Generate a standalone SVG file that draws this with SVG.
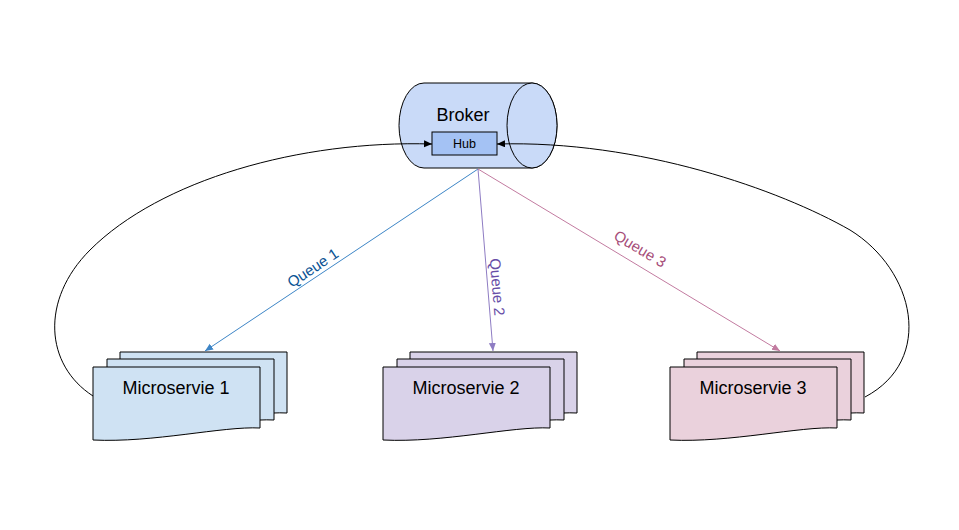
<svg xmlns="http://www.w3.org/2000/svg" width="959" height="530" viewBox="0 0 959 530">
<style>
  text { font-family: "Liberation Sans", Arial, sans-serif; }
  .doc { stroke: #000; stroke-width: 1; }
  .d1 { fill: #cfe2f3; }
  .d2 { fill: #d9d2e9; }
  .d3 { fill: #ead1dc; }
  .lbl { font-size: 18px; fill: #000; text-anchor: middle; }
  .q { font-size: 15px; text-anchor: middle; }
  .conn { fill: none; stroke-width: 1; }
</style>
<defs>
  <path id="docshape" d="M0,0 H167 V61 C130,59 60,76 0,73 Z"/>
  <marker id="ak" markerUnits="userSpaceOnUse" markerWidth="10" markerHeight="8" refX="8" refY="3.5" orient="auto"><path d="M0,0 L8,3.5 L0,7 Z" fill="#000"/></marker>
  <marker id="ab" markerUnits="userSpaceOnUse" markerWidth="10" markerHeight="8" refX="8" refY="3.5" orient="auto"><path d="M0,0 L8,3.5 L0,7 Z" fill="#3d85c6"/></marker>
  <marker id="ap" markerUnits="userSpaceOnUse" markerWidth="10" markerHeight="8" refX="8" refY="3.5" orient="auto"><path d="M0,0 L8,3.5 L0,7 Z" fill="#8e7cc3"/></marker>
  <marker id="am" markerUnits="userSpaceOnUse" markerWidth="10" markerHeight="8" refX="8" refY="3.5" orient="auto"><path d="M0,0 L8,3.5 L0,7 Z" fill="#c27ba0"/></marker>
</defs>
<rect width="959" height="530" fill="#fff"/>

<g id="broker">
  <path d="M424,83 H532 A25,42.5 0 0 1 532,168 H424 A25,42.5 0 0 1 424,83 Z" fill="#c9daf8" stroke="#000"/>
  <ellipse cx="532" cy="125.5" rx="25" ry="42.5" fill="#c9daf8" stroke="#000"/>
  <text x="463" y="121" class="lbl">Broker</text>
</g>

<g id="hub">
  <rect x="432" y="132" width="65" height="23" fill="#a4c2f4" stroke="#000"/>
  <text x="464.5" y="148" font-size="12.5" text-anchor="middle" fill="#000">Hub</text>
</g>

<g id="microservice1">
  <use href="#docshape" x="120" y="352" class="doc d1"/>
  <use href="#docshape" x="107" y="359" class="doc d1"/>
  <use href="#docshape" x="93" y="367" class="doc d1"/>
  <text x="176" y="394" class="lbl">Microservie 1</text>
</g>

<g id="microservice2">
  <use href="#docshape" x="410" y="352" class="doc d2"/>
  <use href="#docshape" x="397" y="359" class="doc d2"/>
  <use href="#docshape" x="383" y="367" class="doc d2"/>
  <text x="466" y="394" class="lbl">Microservie 2</text>
</g>

<g id="microservice3">
  <use href="#docshape" x="697" y="352" class="doc d3"/>
  <use href="#docshape" x="684" y="359" class="doc d3"/>
  <use href="#docshape" x="670" y="367" class="doc d3"/>
  <text x="753" y="394" class="lbl">Microservie 3</text>
</g>

<g id="connectors">
  <path class="conn" stroke="#000" d="M93,396 C45,365 40,300 90,250 C160,180 300,140 432,144" marker-end="url(#ak)"/>
  <path class="conn" stroke="#000" d="M865,397 C935,360 915,270 850,230 C780,190 640,140 497,144" marker-end="url(#ak)"/>
  <path class="conn" stroke="#3d85c6" d="M478,169 L205,351" marker-end="url(#ab)"/>
  <path class="conn" stroke="#8e7cc3" d="M478,169 L493,351" marker-end="url(#ap)"/>
  <path class="conn" stroke="#c27ba0" d="M478,169 L780,351" marker-end="url(#am)"/>
  <text class="q" fill="#0b5394" transform="translate(313,268) rotate(-33.7)" x="0" y="5">Queue 1</text>
  <text class="q" fill="#674ea7" transform="translate(497,287) rotate(85.3)" x="0" y="5">Queue 2</text>
  <text class="q" fill="#a64d79" transform="translate(640,249) rotate(31.1)" x="0" y="5">Queue 3</text>
</g>
</svg>
